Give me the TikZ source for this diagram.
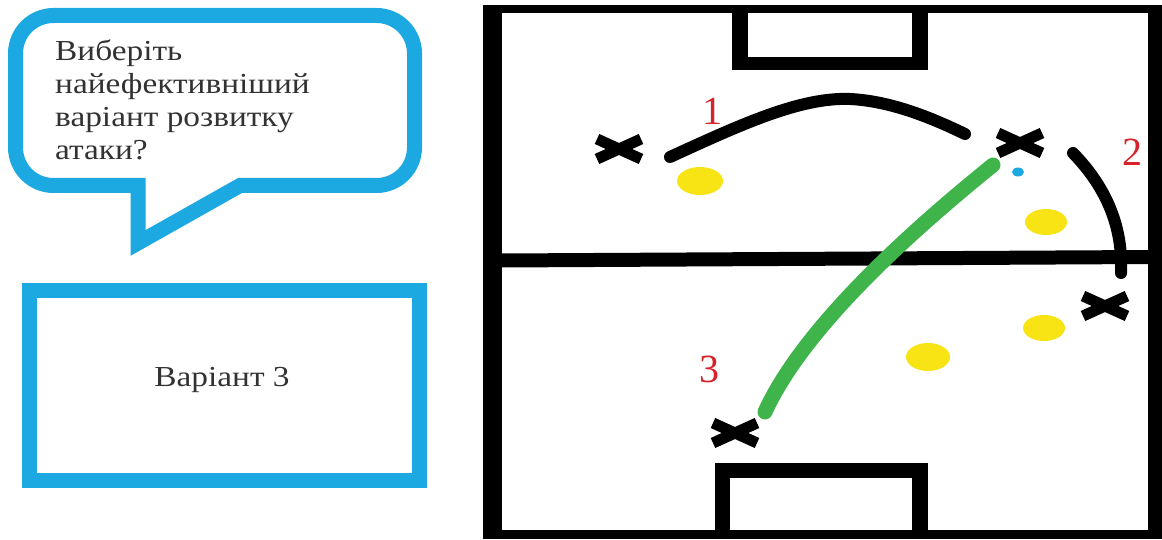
\documentclass[tikz,border=0pt]{standalone}
\usepackage{fontspec}
\setmainfont{Liberation Serif}
\newfontfamily\stretchserif[FakeStretch=1.15]{Liberation Serif}
\definecolor{cyanline}{RGB}{28,168,225}
\definecolor{greenpass}{RGB}{62,180,74}
\definecolor{yellowdot}{RGB}{248,228,20}
\definecolor{rednum}{RGB}{214,35,42}
\definecolor{textgray}{RGB}{50,50,50}
\begin{document}
\begin{tikzpicture}[x=1pt,y=1pt,
  xstroke/.style={draw=black, line width=11pt},
  opp/.style={fill=yellowdot, draw=none},
  run/.style={line width=12pt, line cap=round, draw=black},
  pass/.style={line width=15pt, line cap=round, draw=greenpass},
  num/.style={text=rednum, font=\fontsize{40}{40}\selectfont, inner sep=0pt},
  bluebox/.style={draw=cyanline, line width=15pt, line join=miter},
  boxtext/.style={text=textgray, font=\stretchserif\fontsize{29}{33}\selectfont, inner sep=0pt}
]
\useasboundingbox (0,0) rectangle (1162,539);

% speech bubble
\draw[bluebox] (138,296) -- (138,353.5) -- (53.5,353.5)
  arc[start angle=270, end angle=180, radius=38] -- (15.5,485.5)
  arc[start angle=180, end angle=90, radius=38] -- (376.5,523.5)
  arc[start angle=90, end angle=0, radius=38] -- (414.5,391.5)
  arc[start angle=0, end angle=-90, radius=38] -- (240,353.5) -- cycle;
\node[boxtext, anchor=north west, align=left] (question) at (55,499)
  {Виберіть\\найефективніший\\варіант розвитку\\атаки?};

% answer box
\draw[bluebox] (29.5,58.5) rectangle (419.5,248.5);
\node[boxtext] (answer) at (222,159) {Варіант 3};

% pitch
\fill[black] (483,0) rectangle (1162,534);
\fill[white] (502,9) rectangle (1148,526);
\fill[black] (732,469) rectangle (928,534);
\fill[white] (748,482) rectangle (912,526);
\fill[black] (715,0) rectangle (928,76);
\fill[white] (730,9) rectangle (912,61);
\draw[line width=14pt] (502,278.5) -- (1148,282);

% opponents
\fill[opp] (700,358) ellipse [x radius=23, y radius=14];
\fill[opp] (1046,317) ellipse [x radius=21, y radius=13];
\fill[opp] (1044,211) ellipse [x radius=21, y radius=13];
\fill[opp] (928,182) ellipse [x radius=22, y radius=14];
% ball
\fill[cyanline] (1018,367) ellipse [x radius=6, y radius=4.5];

% players
\coordinate (p1) at (619,390);
\coordinate (p2) at (1020,396);
\coordinate (p3) at (1105,233);
\coordinate (p4) at (735,106);
\foreach \p in {p1,p2,p3,p4}
  \draw[xstroke, shift={(\p)}] (-22,-10) -- (22,10) (-22,10) -- (22,-10);

% runs and pass
\coordinate (r1s) at (670,382);
\coordinate (r1m) at (850,440);
\coordinate (r1e) at (965,405);
\draw[run] (r1s) .. controls (740,414) and (800,442) .. (r1m)
  .. controls (890,438) and (930,422) .. (r1e);
\coordinate (r2s) at (1073,386);
\coordinate (r2e) at (1121,266);
\draw[run] (r2s) .. controls (1108,350) and (1123,310) .. (r2e);
\coordinate (ps) at (993,374);
\coordinate (pe) at (765,127);
\draw[pass] (ps) .. controls (920,315) and (805,215) .. (pe);

% labels
\node[num] (l1) at (712,428) {1};
\node[num] (l2) at (1132,387) {2};
\node[num] (l3) at (709,170) {3};
\end{tikzpicture}
\end{document}
